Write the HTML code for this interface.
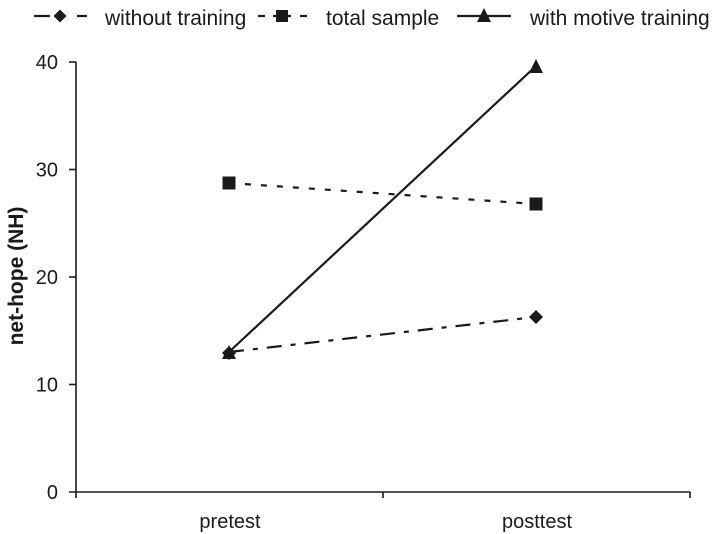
<!DOCTYPE html>
<html>
<head>
<meta charset="utf-8">
<style>
html,body{margin:0;padding:0;background:#fff;}
svg{display:block;}
text{font-family:"Liberation Sans",Arial,sans-serif;fill:#1a1a1a;}
</style>
</head>
<body>
<svg width="720" height="534" viewBox="0 0 720 534" xmlns="http://www.w3.org/2000/svg">
  <!-- Legend -->
  <g stroke="#1a1a1a" stroke-width="2.2" fill="#1a1a1a">
    <line x1="34" y1="16" x2="50" y2="16"/>
    <polygon points="60,9.5 66.5,16 60,22.5 53.5,16" stroke="none"/>
    <line x1="77" y1="16" x2="87" y2="16"/>

    <line x1="258" y1="16" x2="265" y2="16"/>
    <line x1="273" y1="16" x2="291" y2="16"/>
    <rect x="276" y="10" width="12" height="12" stroke="none"/>
    <line x1="300" y1="16" x2="307" y2="16"/>

    <line x1="457" y1="16" x2="511" y2="16"/>
    <polygon points="484,8 491,22 477,22" stroke="none"/>
  </g>
  <text x="105" y="25" font-size="21">without training</text>
  <text x="326" y="25" font-size="21">total sample</text>
  <text x="530" y="25" font-size="21">with motive training</text>

  <!-- Axes -->
  <g stroke="#1a1a1a" stroke-width="1.6" fill="none">
    <line x1="76" y1="62" x2="76" y2="498"/>
    <line x1="69" y1="492" x2="690" y2="492"/>
    <line x1="69" y1="62" x2="76" y2="62"/>
    <line x1="69" y1="169.5" x2="76" y2="169.5"/>
    <line x1="69" y1="277" x2="76" y2="277"/>
    <line x1="69" y1="384.5" x2="76" y2="384.5"/>
    <line x1="383" y1="492" x2="383" y2="498"/>
    <line x1="690" y1="492" x2="690" y2="498"/>
  </g>

  <!-- Y tick labels -->
  <g font-size="20" text-anchor="end">
    <text x="58" y="69">40</text>
    <text x="58" y="176.5">30</text>
    <text x="58" y="284">20</text>
    <text x="58" y="391.5">10</text>
    <text x="58" y="499">0</text>
  </g>

  <!-- Y axis label -->
  <text transform="translate(23,276) rotate(-90)" font-size="21" font-weight="bold" text-anchor="middle">net-hope (NH)</text>

  <!-- X labels -->
  <text x="230" y="528" font-size="20" text-anchor="middle">pretest</text>
  <text x="537" y="528" font-size="20" text-anchor="middle">posttest</text>

  <!-- Series: without training (dash-dot) -->
  <line x1="229" y1="352" x2="536" y2="317" stroke="#1a1a1a" stroke-width="2.2" stroke-dasharray="15,9,5,9"/>
  <!-- total sample (short dash) -->
  <line x1="229" y1="183" x2="536" y2="204" stroke="#1a1a1a" stroke-width="2.2" stroke-dasharray="6,10"/>
  <!-- with motive training (solid) -->
  <line x1="229" y1="352" x2="536" y2="66" stroke="#1a1a1a" stroke-width="2.2"/>

  <!-- Markers -->
  <g fill="#1a1a1a">
    <polygon points="229,346 236,353 229,360 222,353"/>
    <polygon points="536,310 543,317 536,324 529,317"/>
    <rect x="222.5" y="176.5" width="13" height="13"/>
    <rect x="529.5" y="197.5" width="13" height="13"/>
    <polygon points="229,345 236,359 222,359"/>
    <polygon points="536,59 543,73 529,73"/>
  </g>
</svg>
</body>
</html>
